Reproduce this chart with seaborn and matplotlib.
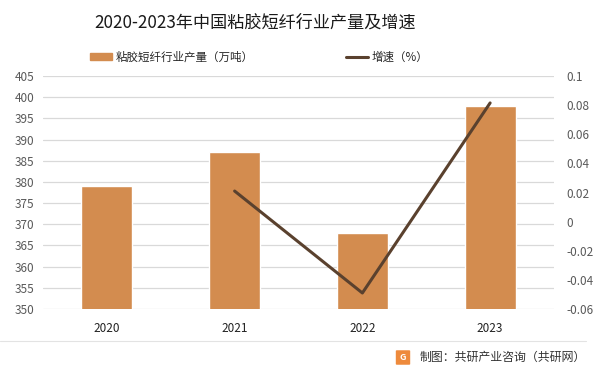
import matplotlib
matplotlib.use("Agg")
import matplotlib.pyplot as plt
from matplotlib.patches import FancyBboxPatch
from matplotlib.lines import Line2D
import seaborn as sns
import pandas as pd

years = ["2020", "2021", "2022", "2023"]
output = [379, 387, 368, 398]
growth_years = ["2021", "2022", "2023"]
growth = [0.021, -0.049, 0.0815]
left_ticks = [350, 355, 360, 365, 370, 375, 380, 385, 390, 395, 400, 405]
right_ticks = [-0.06, -0.04, -0.02, 0, 0.02, 0.04, 0.06, 0.08, 0.1]
right_labels = ["-0.06", "-0.04", "-0.02", "0", "0.02", "0.04", "0.06", "0.08", "0.1"]

sns.set_theme(style="white")
plt.rcParams["font.family"] = ["Noto Sans CJK SC", "DejaVu Sans"]

bar_color = "#D38C4F"
line_color = "#5A412E"
grid_color = "#D9D9D9"
tick_gray = "#595959"

fig = plt.figure(figsize=(6.01, 3.74), dpi=100)
ax = fig.add_axes([43 / 601, 1 - 309 / 374, 511 / 601, 233 / 374])

df = pd.DataFrame({"year": years, "output": output})
sns.barplot(data=df, x="year", y="output", color=bar_color, width=0.4,
            saturation=1, ax=ax, order=years)
ax.set_ylim(350, 405)
ax.set_xlim(-0.5, 3.5)
ax.set_yticks(left_ticks)
ax.set_yticklabels([str(t) for t in left_ticks])
ax.yaxis.grid(True, color=grid_color, linewidth=0.9)
ax.set_axisbelow(True)
for s in ax.spines.values():
    s.set_visible(False)
ax.set_xlabel("")
ax.set_ylabel("")
ax.tick_params(axis="y", length=0, pad=6, labelsize=8.5, labelcolor=tick_gray)
ax.tick_params(axis="x", length=0, pad=9, labelsize=8.5, labelcolor="#222222")

ax2 = ax.twinx()
gdf = pd.DataFrame({"pos": [years.index(y) for y in growth_years], "growth": growth})
sns.lineplot(data=gdf, x="pos", y="growth", color=line_color, linewidth=2.2, ax=ax2)
ax2.set_ylim(-0.06, 0.1)
ax2.set_xlim(-0.5, 3.5)
ax2.set_yticks(right_ticks)
ax2.set_yticklabels(right_labels)
ax2.set_ylabel("")
for s in ax2.spines.values():
    s.set_visible(False)
ax2.tick_params(axis="y", length=0, pad=9, labelsize=8.5, labelcolor=tick_gray)

fig.text(255 / 601, 1 - 23 / 374, "2020-2023年中国粘胶短纤行业产量及增速", ha="center", va="center",
         fontsize=12.3, color="#1a1a1a")

handles = [plt.Rectangle((0, 0), 1, 1, color=bar_color),
           Line2D([0], [0], color=line_color, linewidth=2.2)]
labels = ["粘胶短纤行业产量（万吨）", "增速（%）"]
fig.legend(handles, labels, loc="center left", bbox_to_anchor=(90 / 601, 1 - 57 / 374),
           ncol=2, frameon=False, fontsize=8.3, columnspacing=8.0, handlelength=1.95,
           handletextpad=0.27, handleheight=0.6, borderaxespad=0, borderpad=0)

fig.add_artist(Line2D([0, 586 / 601], [1 - 341 / 374, 1 - 341 / 374], color="#E3E3E3",
                      linewidth=0.8, transform=fig.transFigure))
logo = FancyBboxPatch((397 / 601, 1 - 364 / 374), 12 / 601, 13 / 374,
                      boxstyle="round,pad=0.002", transform=fig.transFigure,
                      facecolor="#EE8A3C", edgecolor="none")
fig.add_artist(logo)
fig.text(403 / 601, 1 - 357.5 / 374, "G", ha="center", va="center", fontsize=6.5,
         color="white", fontweight="bold")
fig.text(586 / 601, 1 - 357 / 374, "制图：共研产业咨询（共研网）", ha="right", va="center",
         fontsize=8.6, color="#333333")

fig.savefig("out.png", dpi=100)
